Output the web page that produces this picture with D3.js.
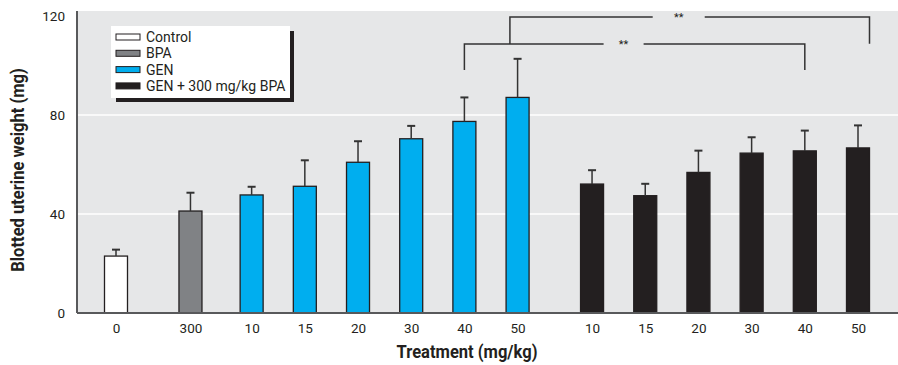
<!DOCTYPE html>
<html>
<head>
<meta charset="utf-8">
<script src="https://cdn.jsdelivr.net/npm/d3@7"></script>
<style>
  html, body { margin: 0; padding: 0; background: #ffffff; }
  svg { display: block; }
  text { font-family: "Roboto", "Liberation Sans", sans-serif; fill: #231f20; }
</style>
</head>
<body>
<svg id="chart" width="898" height="365"></svg>
<script>
// Treatment groups and their doses (mg/kg)
const groupNames = ["Control", "BPA", "GEN", "GEN + 300 mg/kg BPA"];
const groupDoses = [
  ["0"],
  ["300"],
  ["10", "15", "20", "30", "40", "50"],
  ["10", "15", "20", "30", "40", "50"]
];
// Mean blotted uterine weight (mg)
const groupMeans = [
  [23.0],
  [41.2],
  [47.7, 51.2, 60.9, 70.4, 77.4, 87.1],
  [52.1, 47.4, 56.8, 64.6, 65.5, 66.7]
];
// Upper error (SE, mg)
const groupErrors = [
  [2.6],
  [7.4],
  [3.3, 10.5, 8.5, 5.2, 9.7, 15.6],
  [5.6, 4.8, 8.8, 6.4, 8.2, 9.1]
];
const groupColors = ["#ffffff", "#808285", "#00aeef", "#231f20"];
const yTicks = [0, 40, 80, 120];
// Significance comparisons: [group, dose] pairs
const sigPairs = [
  { from: [2, "40"], to: [3, "40"], level: 108.7, drop: 10.5, label: "**" },
  { from: [2, "50"], to: [3, "50"], level: 119.6, drop: 10.8, label: "**" }
];

// ---- layout ----
const plot = { left: 77, right: 898, top: 11, bottom: 313 };
const groupGap = [0, 1.4, 1.15, 1.4];   // extra spacing before each group, in bar steps
const barW = 23;

// flatten into bars with slot positions
const bars = [];
let slot = 0;
groupNames.forEach((g, gi) => {
  if (gi > 0) slot += groupGap[gi];
  groupDoses[gi].forEach((d, di) => {
    if (di > 0) slot += 1;
    bars.push({ group: gi, dose: d, mean: groupMeans[gi][di], err: groupErrors[gi][di], slot });
  });
});

const x = d3.scaleLinear().domain([0, slot]).range([116, 858]);
const y = d3.scaleLinear().domain([0, 120]).range([plot.bottom, 16]);

const svg = d3.select("#chart");

// plot background
svg.append("rect")
  .attr("x", plot.left).attr("y", plot.top)
  .attr("width", plot.right - plot.left).attr("height", plot.bottom - plot.top)
  .attr("fill", "#e6e7e8");

// gridlines
svg.append("g").selectAll("line")
  .data(yTicks.filter(t => t > 0 && t < 120))
  .join("line")
  .attr("x1", plot.left).attr("x2", plot.right)
  .attr("y1", d => y(d)).attr("y2", d => y(d))
  .attr("stroke", "#ffffff").attr("stroke-width", 1.5);

// y axis
const yAxis = svg.append("g")
  .attr("transform", `translate(${plot.left},0)`)
  .call(d3.axisLeft(y).tickValues(yTicks).tickSize(0).tickPadding(12));
yAxis.select(".domain").remove();
yAxis.selectAll("text").attr("font-size", 13.5).attr("font-family", null).attr("fill", "#231f20");
svg.append("line")
  .attr("x1", plot.left).attr("x2", plot.left)
  .attr("y1", plot.top).attr("y2", plot.bottom)
  .attr("stroke", "#58595b").attr("stroke-width", 2);

// x axis labels
const xAxis = svg.append("g")
  .attr("transform", `translate(0,${plot.bottom})`)
  .call(d3.axisBottom(x).tickValues(bars.map(b => b.slot))
    .tickFormat((d, i) => bars[i].dose).tickSize(0).tickPadding(10));
xAxis.select(".domain").remove();
xAxis.selectAll("text").attr("font-size", 13.5).attr("font-family", null).attr("fill", "#231f20");

// bars
svg.append("g").selectAll("rect")
  .data(bars)
  .join("rect")
  .attr("x", d => x(d.slot) - barW / 2)
  .attr("y", d => y(d.mean))
  .attr("width", barW)
  .attr("height", d => y(0) - y(d.mean))
  .attr("fill", d => groupColors[d.group])
  .attr("stroke", "#231f20")
  .attr("stroke-width", 1.3);

// error bars (upper only)
const eb = svg.append("g").attr("stroke", "#333333").attr("stroke-width", 1.5);
eb.selectAll("line.v").data(bars).join("line").attr("class", "v")
  .attr("x1", d => x(d.slot)).attr("x2", d => x(d.slot))
  .attr("y1", d => y(d.mean)).attr("y2", d => y(d.mean + d.err));
eb.selectAll("line.c").data(bars).join("line").attr("class", "c")
  .attr("x1", d => x(d.slot) - 4).attr("x2", d => x(d.slot) + 4)
  .attr("y1", d => y(d.mean + d.err)).attr("y2", d => y(d.mean + d.err))
  .attr("stroke-width", 2);

// x baseline
svg.append("line")
  .attr("x1", plot.left).attr("x2", plot.right)
  .attr("y1", plot.bottom).attr("y2", plot.bottom)
  .attr("stroke", "#58595b").attr("stroke-width", 2);

// significance brackets
const findBar = ([g, d]) => bars.find(b => b.group === g && b.dose === d);
const sg = svg.append("g");
sigPairs.forEach((p, i) => {
  const a = findBar(p.from), b = findBar(p.to);
  let xa = x(a.slot), xb = x(b.slot);
  const yl = y(p.level);
  let ya = y(p.level - p.drop), yb = y(p.level - p.drop);
  if (i === 1) {
    // outer bracket starts from the inner one and ends at the bar's right edge
    xa = x(a.slot) - barW / 3;
    xb = x(b.slot) + barW / 2;
    ya = y(sigPairs[0].level);
  }
  const mid = (xa + xb) / 2 - 11;
  const gapHalf = i === 0 ? 20 : 26;
  const path = `M${xa},${ya}V${yl}H${mid - gapHalf}M${mid + gapHalf},${yl}H${xb}V${yb}`;
  sg.append("path").attr("d", path).attr("fill", "none")
    .attr("stroke", "#333333").attr("stroke-width", 1.5);
  sg.append("text").attr("x", mid).attr("y", yl + 4)
    .attr("text-anchor", "middle").attr("font-size", 11)
    .attr("fill", "#6d6e71").text(p.label);
});

// legend
const lg = svg.append("g").attr("transform", "translate(111,26)");
lg.append("rect").attr("x", 5).attr("y", 5).attr("width", 178).attr("height", 71).attr("fill", "#231f20");
lg.append("rect").attr("x", 0).attr("y", 0).attr("width", 179).attr("height", 72).attr("fill", "#ffffff");
groupNames.forEach((g, i) => {
  const row = lg.append("g").attr("transform", `translate(5,${11 + i * 16.3})`);
  row.append("rect").attr("x", 0).attr("y", -3).attr("width", 24).attr("height", 6)
    .attr("fill", groupColors[i]).attr("stroke", "#231f20").attr("stroke-width", 1);
  row.append("text").attr("x", 30).attr("y", 5).attr("font-size", 14).text(g);
});

// axis titles (slightly condensed bold)
svg.append("text")
  .attr("transform", "translate(467,358) scale(0.92,1)")
  .attr("text-anchor", "middle").attr("font-size", 18).attr("font-weight", "bold")
  .text("Treatment (mg/kg)");
svg.append("text")
  .attr("transform", "translate(24,170) rotate(-90) scale(0.92,1)")
  .attr("text-anchor", "middle").attr("font-size", 18).attr("font-weight", "bold")
  .text("Blotted uterine weight (mg)");
</script>
</body>
</html>
